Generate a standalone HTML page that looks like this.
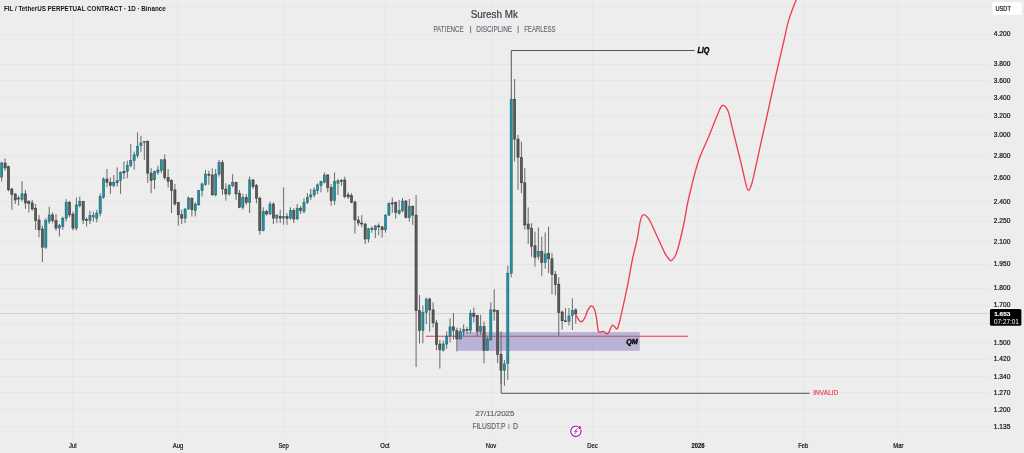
<!DOCTYPE html>
<html><head><meta charset="utf-8"><style>
html,body{margin:0;padding:0;background:#ededed;width:1024px;height:453px;overflow:hidden}
svg{display:block;will-change:transform}
text{font-family:"Liberation Sans",sans-serif}
</style></head><body>
<svg width="1024" height="453" viewBox="0 0 1024 453">
<rect x="0" y="0" width="1024" height="453" fill="#ededed"/>

<path d="M0 6.5H990 M0 34.5H990 M0 64.5H990 M0 80.5H990 M0 97.5H990 M0 115.5H990 M0 134.5H990 M0 155.5H990 M0 177.5H990 M0 201.5H990 M0 221.5H990 M0 241.5H990 M0 264.5H990 M0 288.5H990 M0 305.5H990 M0 323.5H990 M0 342.5H990 M0 359.5H990 M0 376.5H990 M0 392.5H990 M0 409.5H990 M0 426.5H990 M72.6 0V437 M178.3 0V437 M283.2 0V437 M385.3 0V437 M491.3 0V437 M592.7 0V437 M698.3 0V437 M803.4 0V437 M898.2 0V437" stroke="#e5e6e6" stroke-width="1" fill="none"/>
<path d="M0 313.5H990" stroke="#d3d3d3" stroke-width="1"/>
<path d="M425.8 336.3H688" stroke="#ec3a4e" stroke-width="1.05"/>
<rect x="457.2" y="332.1" width="182.6" height="18.7" fill="rgb(121,108,186)" fill-opacity="0.45"/>
<path d="M1.66 161.6V181.5 M22.04 181.0V201.5 M45.82 218.2V248.9 M49.22 206.6V224.0 M59.41 224.0V236.4 M62.81 216.5V229.8 M66.20 199.1V221.5 M76.39 197.5V230.6 M79.79 196.6V207.4 M89.98 210.7V224.0 M93.38 211.6V221.5 M96.78 209.9V222.3 M100.17 193.3V216.5 M103.57 177.3V198.9 M113.76 174.9V187.3 M117.16 167.4V186.5 M120.55 171.5V193.9 M127.35 160.8V178.2 M130.75 144.0V167.3 M134.14 151.5V169.8 M137.54 132.4V158.2 M140.94 135.7V152.3 M144.33 141.2V159.8 M154.52 170.7V189.0 M157.92 165.7V174.9 M161.32 159.1V173.2 M185.10 208.2V223.1 M188.49 196.5V209.8 M195.29 202.4V216.5 M198.69 189.9V205.7 M202.08 182.4V196.5 M205.48 170.0V185.7 M215.67 169.1V196.5 M219.07 160.0V176.6 M229.26 184.0V195.7 M232.66 174.1V187.4 M242.85 194.0V209.8 M249.64 176.6V213.0 M263.23 207.3V231.4 M270.02 201.5V214.8 M276.82 214.0V223.1 M283.61 187.4V224.8 M290.41 207.3V219.8 M297.20 204.0V219.8 M303.99 198.2V213.2 M307.39 193.2V204.0 M310.79 189.0V199.9 M314.18 187.4V197.4 M317.58 183.3V194.0 M320.98 180.8V192.4 M324.38 172.5V183.3 M334.57 172.5V204.9 M337.96 179.1V194.9 M368.54 227.8V242.5 M375.33 224.9V238.1 M385.52 214.2V232.7 M388.92 202.5V216.0 M399.11 200.0V214.7 M402.51 198.0V212.2 M409.30 199.0V221.5 M422.89 305.8V343.4 M426.29 297.5V324.0 M443.27 340.6V351.4 M446.67 331.5V348.8 M450.06 318.2V342.3 M460.25 327.8V339.6 M463.65 324.4V336.1 M470.45 309.9V333.7 M480.64 314.9V334.8 M487.43 337.3V350.7 M490.83 302.4V340.6 M504.42 360.0V385.9 M507.81 265.7V380.0 M511.21 99.0V277.3 M538.39 227.5V259.8 M545.18 232.5V268.6 M568.96 308.0V325.6 M572.36 298.3V330.0 M5.06 158.3V170.7 M8.45 165.7V191.4 M11.85 187.8V209.8 M15.25 193.2V204.0 M18.64 195.7V205.6 M25.44 189.8V208.9 M28.84 200.0V212.4 M32.23 200.0V210.7 M35.63 204.0V229.8 M39.03 214.9V237.3 M42.42 225.7V262.1 M52.61 212.4V223.2 M56.01 214.0V230.6 M69.60 200.8V217.4 M73.00 211.6V230.6 M83.19 200.8V224.0 M86.58 217.4V226.5 M106.97 169.0V187.3 M110.36 177.3V193.9 M123.95 161.6V179.0 M147.73 140.7V183.0 M151.13 168.1V193.1 M164.72 154.5V179.8 M168.11 169.1V187.4 M171.51 179.1V213.0 M174.91 184.0V205.7 M178.30 202.4V225.6 M181.70 209.8V224.0 M191.89 197.4V216.5 M208.88 170.8V184.9 M212.27 168.3V195.7 M222.46 160.0V194.9 M225.86 183.3V200.7 M236.05 181.6V199.9 M239.45 190.0V208.2 M246.24 194.0V204.8 M253.04 179.1V189.0 M256.44 184.0V203.2 M259.83 196.5V234.8 M266.63 209.8V215.6 M273.42 202.4V224.0 M280.21 209.8V223.1 M287.01 213.2V224.8 M293.80 208.2V223.1 M300.60 205.7V214.0 M327.77 174.1V192.4 M331.17 184.1V205.7 M341.36 179.1V185.8 M344.76 176.6V198.2 M348.15 192.4V199.0 M351.55 193.2V203.2 M354.95 200.7V233.7 M358.35 216.1V225.9 M361.74 215.1V227.3 M365.14 223.0V244.0 M371.93 226.4V232.7 M378.73 223.4V235.2 M382.12 225.9V237.6 M392.31 197.6V212.7 M395.71 201.5V218.6 M405.90 200.0V218.5 M412.70 205.4V224.9 M416.09 195.1V367.1 M419.49 295.0V343.4 M429.68 297.5V331.7 M433.08 302.4V327.3 M436.48 319.9V350.3 M439.87 339.8V368.6 M453.46 313.2V339.8 M456.86 327.8V351.3 M467.05 326.8V333.7 M473.84 307.4V322.4 M477.24 314.9V336.6 M484.03 321.5V363.4 M494.23 289.2V320.7 M497.62 309.9V363.0 M501.02 331.5V384.0 M514.61 79.0V161.5 M518.00 135.0V189.8 M521.40 141.6V193.3 M524.80 168.2V229.8 M528.19 207.4V244.0 M531.59 223.2V256.8 M534.99 231.6V266.6 M541.78 236.6V275.9 M548.58 226.7V273.0 M551.97 252.9V294.4 M555.37 271.0V295.4 M558.77 277.3V335.7 M562.16 310.5V329.6 M565.56 308.0V321.7 M575.75 308.0V323.7" stroke="#5a5a5a" stroke-width="0.9" fill="none"/>
<g fill="#1795a8" stroke="#2c5a60" stroke-width="0.5"><rect x="0.56" y="163.0" width="2.2" height="14.0"/><rect x="20.94" y="193.8" width="2.2" height="5.8"/><rect x="44.72" y="220.7" width="2.2" height="26.5"/><rect x="48.12" y="214.9" width="2.2" height="6.6"/><rect x="58.31" y="225.7" width="2.2" height="2.4"/><rect x="61.71" y="218.2" width="2.2" height="8.3"/><rect x="65.10" y="202.4" width="2.2" height="15.8"/><rect x="75.29" y="204.9" width="2.2" height="23.2"/><rect x="78.69" y="201.6" width="2.2" height="4.2"/><rect x="88.88" y="215.7" width="2.2" height="5.0"/><rect x="92.28" y="215.7" width="2.2" height="1.2"/><rect x="95.68" y="213.2" width="2.2" height="5.0"/><rect x="99.07" y="196.6" width="2.2" height="16.6"/><rect x="102.47" y="179.0" width="2.2" height="18.2"/><rect x="112.66" y="182.3" width="2.2" height="3.3"/><rect x="116.06" y="180.7" width="2.2" height="2.1"/><rect x="119.45" y="172.4" width="2.2" height="8.3"/><rect x="126.25" y="165.7" width="2.2" height="5.8"/><rect x="129.65" y="160.6" width="2.2" height="5.0"/><rect x="133.04" y="154.8" width="2.2" height="5.8"/><rect x="136.44" y="146.2" width="2.2" height="9.5"/><rect x="139.84" y="142.9" width="2.2" height="2.8"/><rect x="143.23" y="141.2" width="2.2" height="1.2"/><rect x="153.42" y="171.5" width="2.2" height="8.3"/><rect x="156.82" y="169.9" width="2.2" height="2.5"/><rect x="160.22" y="159.8" width="2.2" height="10.8"/><rect x="184.00" y="209.0" width="2.2" height="9.1"/><rect x="187.39" y="197.9" width="2.2" height="11.1"/><rect x="194.19" y="204.0" width="2.2" height="6.7"/><rect x="197.59" y="190.7" width="2.2" height="14.1"/><rect x="200.98" y="184.0" width="2.2" height="6.7"/><rect x="204.38" y="174.1" width="2.2" height="10.5"/><rect x="214.57" y="174.1" width="2.2" height="20.8"/><rect x="217.97" y="162.5" width="2.2" height="11.6"/><rect x="228.16" y="185.7" width="2.2" height="8.3"/><rect x="231.56" y="182.4" width="2.2" height="3.3"/><rect x="241.75" y="197.4" width="2.2" height="9.9"/><rect x="248.54" y="179.9" width="2.2" height="22.5"/><rect x="262.13" y="211.5" width="2.2" height="19.1"/><rect x="268.92" y="204.0" width="2.2" height="10.0"/><rect x="275.72" y="215.6" width="2.2" height="2.5"/><rect x="282.51" y="216.5" width="2.2" height="1.6"/><rect x="289.31" y="210.7" width="2.2" height="7.4"/><rect x="296.10" y="208.2" width="2.2" height="10.8"/><rect x="302.89" y="202.4" width="2.2" height="9.1"/><rect x="306.29" y="197.4" width="2.2" height="5.0"/><rect x="309.69" y="194.9" width="2.2" height="2.0"/><rect x="313.08" y="189.9" width="2.2" height="5.0"/><rect x="316.48" y="184.9" width="2.2" height="5.8"/><rect x="319.88" y="181.6" width="2.2" height="4.1"/><rect x="323.27" y="175.0" width="2.2" height="7.4"/><rect x="333.47" y="181.6" width="2.2" height="19.1"/><rect x="336.86" y="180.8" width="2.2" height="2.5"/><rect x="367.44" y="228.8" width="2.2" height="10.2"/><rect x="374.23" y="225.9" width="2.2" height="3.9"/><rect x="384.42" y="215.1" width="2.2" height="14.7"/><rect x="387.82" y="203.4" width="2.2" height="11.7"/><rect x="398.01" y="210.7" width="2.2" height="2.5"/><rect x="401.41" y="201.0" width="2.2" height="9.8"/><rect x="408.20" y="206.3" width="2.2" height="11.3"/><rect x="421.79" y="312.4" width="2.2" height="18.3"/><rect x="425.19" y="299.1" width="2.2" height="13.3"/><rect x="442.17" y="344.0" width="2.2" height="6.3"/><rect x="445.57" y="336.1" width="2.2" height="7.9"/><rect x="448.96" y="326.8" width="2.2" height="9.3"/><rect x="459.15" y="331.7" width="2.2" height="7.3"/><rect x="462.55" y="329.3" width="2.2" height="2.4"/><rect x="469.35" y="313.2" width="2.2" height="17.5"/><rect x="479.54" y="326.5" width="2.2" height="5.0"/><rect x="486.33" y="339.0" width="2.2" height="11.3"/><rect x="489.73" y="309.9" width="2.2" height="29.9"/><rect x="503.32" y="363.9" width="2.2" height="6.4"/><rect x="506.71" y="273.2" width="2.2" height="90.2"/><rect x="510.11" y="99.3" width="2.2" height="173.9"/><rect x="537.29" y="251.5" width="2.2" height="4.8"/><rect x="544.08" y="253.9" width="2.2" height="8.8"/><rect x="567.86" y="315.9" width="2.2" height="5.8"/><rect x="571.26" y="310.5" width="2.2" height="4.9"/></g>
<g fill="#5a5a5a" stroke="#303030" stroke-width="0.5"><rect x="3.96" y="163.0" width="2.2" height="5.0"/><rect x="7.35" y="166.6" width="2.2" height="23.2"/><rect x="10.75" y="189.0" width="2.2" height="5.6"/><rect x="14.15" y="194.0" width="2.2" height="6.0"/><rect x="17.54" y="198.0" width="2.2" height="1.0"/><rect x="24.34" y="193.8" width="2.2" height="9.2"/><rect x="27.74" y="201.6" width="2.2" height="1.7"/><rect x="31.13" y="202.9" width="2.2" height="6.1"/><rect x="34.53" y="208.2" width="2.2" height="12.5"/><rect x="37.93" y="219.9" width="2.2" height="9.9"/><rect x="41.32" y="229.0" width="2.2" height="18.2"/><rect x="51.51" y="214.9" width="2.2" height="5.8"/><rect x="54.91" y="220.7" width="2.2" height="7.4"/><rect x="68.50" y="202.4" width="2.2" height="12.5"/><rect x="71.90" y="214.0" width="2.2" height="14.1"/><rect x="82.09" y="201.6" width="2.2" height="18.3"/><rect x="85.48" y="219.5" width="2.2" height="1.2"/><rect x="105.87" y="179.0" width="2.2" height="3.3"/><rect x="109.26" y="182.3" width="2.2" height="3.3"/><rect x="122.85" y="171.5" width="2.2" height="1.4"/><rect x="146.63" y="141.2" width="2.2" height="31.9"/><rect x="150.03" y="173.1" width="2.2" height="7.5"/><rect x="163.62" y="159.8" width="2.2" height="17.5"/><rect x="167.01" y="177.3" width="2.2" height="4.2"/><rect x="170.41" y="180.7" width="2.2" height="10.0"/><rect x="173.81" y="189.9" width="2.2" height="14.1"/><rect x="177.20" y="202.4" width="2.2" height="12.4"/><rect x="180.60" y="214.8" width="2.2" height="3.3"/><rect x="190.79" y="198.2" width="2.2" height="11.6"/><rect x="207.78" y="174.1" width="2.2" height="1.2"/><rect x="211.17" y="175.0" width="2.2" height="19.9"/><rect x="221.36" y="162.5" width="2.2" height="26.5"/><rect x="224.76" y="189.0" width="2.2" height="5.0"/><rect x="234.95" y="182.4" width="2.2" height="11.6"/><rect x="238.35" y="193.2" width="2.2" height="14.1"/><rect x="245.14" y="197.4" width="2.2" height="5.0"/><rect x="251.94" y="179.9" width="2.2" height="6.7"/><rect x="255.34" y="185.7" width="2.2" height="12.5"/><rect x="258.73" y="198.2" width="2.2" height="32.4"/><rect x="265.53" y="211.5" width="2.2" height="2.5"/><rect x="272.32" y="204.0" width="2.2" height="14.1"/><rect x="279.11" y="216.5" width="2.2" height="1.6"/><rect x="285.91" y="216.5" width="2.2" height="2.0"/><rect x="292.70" y="210.7" width="2.2" height="8.3"/><rect x="299.50" y="208.2" width="2.2" height="2.5"/><rect x="326.67" y="175.0" width="2.2" height="12.4"/><rect x="330.07" y="187.4" width="2.2" height="13.3"/><rect x="340.26" y="180.3" width="2.2" height="1.0"/><rect x="343.66" y="180.0" width="2.2" height="16.6"/><rect x="347.05" y="194.9" width="2.2" height="2.0"/><rect x="350.45" y="195.7" width="2.2" height="6.7"/><rect x="353.85" y="202.0" width="2.2" height="18.0"/><rect x="357.25" y="220.0" width="2.2" height="3.0"/><rect x="360.64" y="223.0" width="2.2" height="1.0"/><rect x="364.04" y="224.0" width="2.2" height="15.0"/><rect x="370.83" y="228.3" width="2.2" height="1.0"/><rect x="377.63" y="225.9" width="2.2" height="1.0"/><rect x="381.02" y="226.9" width="2.2" height="2.9"/><rect x="391.21" y="202.9" width="2.2" height="1.0"/><rect x="394.61" y="202.4" width="2.2" height="9.8"/><rect x="404.80" y="201.0" width="2.2" height="16.6"/><rect x="411.60" y="206.3" width="2.2" height="8.8"/><rect x="414.99" y="215.1" width="2.2" height="95.6"/><rect x="418.39" y="310.7" width="2.2" height="20.0"/><rect x="428.58" y="299.1" width="2.2" height="10.8"/><rect x="431.98" y="309.9" width="2.2" height="13.0"/><rect x="435.38" y="322.9" width="2.2" height="21.5"/><rect x="438.77" y="344.0" width="2.2" height="5.8"/><rect x="452.36" y="326.8" width="2.2" height="3.5"/><rect x="455.76" y="330.7" width="2.2" height="8.3"/><rect x="465.95" y="329.3" width="2.2" height="1.4"/><rect x="472.74" y="313.2" width="2.2" height="3.4"/><rect x="476.14" y="315.7" width="2.2" height="15.8"/><rect x="482.93" y="326.5" width="2.2" height="23.8"/><rect x="493.12" y="309.9" width="2.2" height="1.7"/><rect x="496.52" y="310.7" width="2.2" height="43.9"/><rect x="499.92" y="354.2" width="2.2" height="16.1"/><rect x="513.51" y="99.3" width="2.2" height="39.8"/><rect x="516.90" y="139.1" width="2.2" height="18.3"/><rect x="520.30" y="157.4" width="2.2" height="25.4"/><rect x="523.70" y="182.8" width="2.2" height="42.1"/><rect x="527.09" y="224.0" width="2.2" height="5.0"/><rect x="530.49" y="228.2" width="2.2" height="18.2"/><rect x="533.89" y="245.8" width="2.2" height="11.5"/><rect x="540.68" y="251.5" width="2.2" height="11.2"/><rect x="547.48" y="253.4" width="2.2" height="5.4"/><rect x="550.87" y="258.8" width="2.2" height="15.6"/><rect x="554.27" y="274.4" width="2.2" height="10.3"/><rect x="557.67" y="284.2" width="2.2" height="28.3"/><rect x="561.06" y="312.0" width="2.2" height="8.8"/><rect x="564.46" y="320.8" width="2.2" height="1.0"/><rect x="574.65" y="310.0" width="2.2" height="3.9"/></g>
<path d="M511.3 99V50.5H694.7" stroke="#555" stroke-width="1" fill="none"/>
<path d="M501.2 368V393.3H809.8" stroke="#555" stroke-width="1" fill="none"/>
<path d="M576.0 315.0 C576.50 315.88,578.02 319.20,579.00 320.30 C579.98 321.40,580.92 322.02,581.90 321.60 C582.88 321.18,583.90 319.75,584.90 317.80 C585.90 315.85,586.82 311.88,587.90 309.90 C588.98 307.92,590.33 306.07,591.40 305.90 C592.47 305.73,593.48 307.08,594.30 308.90 C595.12 310.72,595.63 313.17,596.30 316.80 C596.97 320.43,597.55 328.18,598.30 330.70 C599.05 333.22,599.88 331.77,600.80 331.90 C601.72 332.03,602.80 331.17,603.80 331.50 C604.80 331.83,605.90 333.87,606.80 333.90 C607.70 333.93,608.30 333.13,609.20 331.70 C610.10 330.27,611.28 326.12,612.20 325.30 C613.12 324.48,613.87 326.22,614.70 326.80 C615.53 327.38,616.40 329.60,617.20 328.80 C618.00 328.00,618.58 325.47,619.50 322.00 C620.42 318.53,621.28 314.45,622.70 308.00 C624.12 301.55,626.40 291.30,628.00 283.30 C629.60 275.30,630.77 267.38,632.30 260.00 C633.83 252.62,635.98 244.93,637.20 239.00 C638.42 233.07,638.90 228.03,639.60 224.40 C640.30 220.77,640.70 218.82,641.40 217.20 C642.10 215.58,642.78 214.70,643.80 214.70 C644.82 214.70,646.38 215.98,647.50 217.20 C648.62 218.42,648.78 218.57,650.50 222.00 C652.22 225.43,655.47 232.73,657.80 237.80 C660.13 242.87,662.72 248.95,664.50 252.40 C666.28 255.85,667.33 257.15,668.50 258.50 C669.67 259.85,670.15 261.45,671.50 260.50 C672.85 259.55,674.58 258.72,676.60 252.80 C678.62 246.88,681.65 233.80,683.60 225.00 C685.55 216.20,685.87 210.53,688.30 200.00 C690.73 189.47,694.70 172.58,698.20 161.80 C701.70 151.02,705.98 143.40,709.30 135.30 C712.62 127.20,715.90 118.17,718.10 113.20 C720.30 108.23,720.85 105.87,722.50 105.50 C724.15 105.13,726.33 107.12,728.00 111.00 C729.67 114.88,730.33 120.17,732.50 128.80 C734.67 137.43,738.78 153.65,741.00 162.80 C743.22 171.95,744.57 179.10,745.80 183.70 C747.03 188.30,747.40 190.40,748.40 190.40 C749.40 190.40,750.62 187.45,751.80 183.70 C752.98 179.95,753.87 175.18,755.50 167.90 C757.13 160.62,759.65 148.82,761.60 140.00 C763.55 131.18,765.00 125.00,767.20 115.00 C769.40 105.00,771.98 92.50,774.80 80.00 C777.62 67.50,781.75 50.10,784.10 40.00 C786.45 29.90,786.70 26.57,788.90 19.40 C791.10 12.23,795.90 0.73,797.30 -3.00" stroke="#ee3b4f" stroke-width="1.3" fill="none" stroke-linejoin="round"/>
<text transform="translate(3.981 10.900) scale(0.10466 0.10698)" font-size="60" font-weight="bold" font-style="normal" fill="#131722">FIL / TetherUS PERPETUAL CONTRACT · 1D · Binance</text>
<text stroke="#3b3e47" stroke-width="1.2" transform="translate(470.706 17.900) scale(0.16466 0.17674)" font-size="60" font-weight="normal" font-style="normal" fill="#3b3e47">Suresh Mk</text>
<text stroke="#6b6e78" stroke-width="1.2" transform="translate(433.377 31.800) scale(0.10458 0.13902)" font-size="60" font-weight="normal" font-style="normal" fill="#6b6e78">PATIENCE</text>
<text transform="translate(469.200 31.116) scale(0.18000 0.12364)" font-size="60" font-weight="normal" font-style="normal" fill="#6b6e78">|</text>
<text stroke="#6b6e78" stroke-width="1.2" transform="translate(476.262 31.800) scale(0.10767 0.13902)" font-size="60" font-weight="normal" font-style="normal" fill="#6b6e78">DISCIPLINE</text>
<text transform="translate(516.800 31.116) scale(0.18000 0.12364)" font-size="60" font-weight="normal" font-style="normal" fill="#6b6e78">|</text>
<text stroke="#6b6e78" stroke-width="1.2" transform="translate(524.198 31.800) scale(0.10033 0.13902)" font-size="60" font-weight="normal" font-style="normal" fill="#6b6e78">FEARLESS</text>
<text stroke="#000" stroke-width="2.5" transform="translate(697.481 52.700) scale(0.11939 0.14390)" font-size="60" font-weight="bold" font-style="italic" fill="#000000">LIQ</text>
<text stroke="#000" stroke-width="2.5" transform="translate(626.140 343.600) scale(0.12000 0.12927)" font-size="60" font-weight="bold" font-style="italic" fill="#000000">QM</text>
<text stroke="#f23645" stroke-width="1.2" transform="translate(813.240 395.300) scale(0.11000 0.12683)" font-size="60" font-weight="normal" font-style="normal" fill="#f23645">INVALID</text>
<text stroke="#5f626c" stroke-width="1.2" transform="translate(475.202 416.000) scale(0.13276 0.13488)" font-size="60" font-weight="normal" font-style="normal" fill="#5f626c">27/11/2025</text>
<text stroke="#5f626c" stroke-width="1.2" transform="translate(472.449 428.600) scale(0.11027 0.14146)" font-size="60" font-weight="normal" font-style="normal" fill="#5f626c">FILUSDT.P</text>
<text transform="translate(508.000 428.065) scale(0.12000 0.09455)" font-size="60" font-weight="normal" font-style="normal" fill="#5f626c">|</text>
<text stroke="#5f626c" stroke-width="1.2" transform="translate(513.114 428.600) scale(0.11714 0.14146)" font-size="60" font-weight="normal" font-style="normal" fill="#5f626c">D</text>
<text transform="translate(72.8 447.9) scale(0.09806 0.11707)" font-size="60" fill="#131722" stroke="#131722" stroke-width="2" text-anchor="middle">Jul</text>
<text transform="translate(178.0 447.9) scale(0.09806 0.11707)" font-size="60" fill="#131722" stroke="#131722" stroke-width="2" text-anchor="middle">Aug</text>
<text transform="translate(283.6 447.9) scale(0.09806 0.11707)" font-size="60" fill="#131722" stroke="#131722" stroke-width="2" text-anchor="middle">Sep</text>
<text transform="translate(384.9 447.9) scale(0.09806 0.11707)" font-size="60" fill="#131722" stroke="#131722" stroke-width="2" text-anchor="middle">Oct</text>
<text transform="translate(491 447.9) scale(0.09806 0.11707)" font-size="60" fill="#131722" stroke="#131722" stroke-width="2" text-anchor="middle">Nov</text>
<text transform="translate(592.5 447.9) scale(0.09806 0.11707)" font-size="60" fill="#131722" stroke="#131722" stroke-width="2" text-anchor="middle">Dec</text>
<text transform="translate(698 447.9) scale(0.09806 0.11707)" font-size="60" fill="#131722" stroke="#131722" stroke-width="2" text-anchor="middle" font-weight="bold">2026</text>
<text transform="translate(803.2 447.9) scale(0.09806 0.11707)" font-size="60" fill="#131722" stroke="#131722" stroke-width="2" text-anchor="middle">Feb</text>
<text transform="translate(898.4 447.9) scale(0.09806 0.11707)" font-size="60" fill="#131722" stroke="#131722" stroke-width="2" text-anchor="middle">Mar</text>
<text transform="translate(993.769 36.31) scale(0.11034 0.11707)" font-size="60" fill="#131722" stroke="#131722" stroke-width="2">4.200</text>
<text transform="translate(993.769 66.32) scale(0.11034 0.11707)" font-size="60" fill="#131722" stroke="#131722" stroke-width="2">3.800</text>
<text transform="translate(993.769 82.53) scale(0.11034 0.11707)" font-size="60" fill="#131722" stroke="#131722" stroke-width="2">3.600</text>
<text transform="translate(993.769 99.66) scale(0.11034 0.11707)" font-size="60" fill="#131722" stroke="#131722" stroke-width="2">3.400</text>
<text transform="translate(993.769 117.84) scale(0.11034 0.11707)" font-size="60" fill="#131722" stroke="#131722" stroke-width="2">3.200</text>
<text transform="translate(993.769 137.19) scale(0.11034 0.11707)" font-size="60" fill="#131722" stroke="#131722" stroke-width="2">3.000</text>
<text transform="translate(993.769 157.87) scale(0.11034 0.11707)" font-size="60" fill="#131722" stroke="#131722" stroke-width="2">2.800</text>
<text transform="translate(993.769 180.09) scale(0.11034 0.11707)" font-size="60" fill="#131722" stroke="#131722" stroke-width="2">2.600</text>
<text transform="translate(993.769 204.08) scale(0.11034 0.11707)" font-size="60" fill="#131722" stroke="#131722" stroke-width="2">2.400</text>
<text transform="translate(993.769 223.43) scale(0.11034 0.11707)" font-size="60" fill="#131722" stroke="#131722" stroke-width="2">2.250</text>
<text transform="translate(993.769 244.12) scale(0.11034 0.11707)" font-size="60" fill="#131722" stroke="#131722" stroke-width="2">2.100</text>
<text transform="translate(993.769 266.33) scale(0.11034 0.11707)" font-size="60" fill="#131722" stroke="#131722" stroke-width="2">1.950</text>
<text transform="translate(993.769 290.33) scale(0.11034 0.11707)" font-size="60" fill="#131722" stroke="#131722" stroke-width="2">1.800</text>
<text transform="translate(993.769 307.47) scale(0.11034 0.11707)" font-size="60" fill="#131722" stroke="#131722" stroke-width="2">1.700</text>
<text transform="translate(993.769 344.99) scale(0.11034 0.11707)" font-size="60" fill="#131722" stroke="#131722" stroke-width="2">1.500</text>
<text transform="translate(993.769 361.42) scale(0.11034 0.11707)" font-size="60" fill="#131722" stroke="#131722" stroke-width="2">1.420</text>
<text transform="translate(993.769 378.81) scale(0.11034 0.11707)" font-size="60" fill="#131722" stroke="#131722" stroke-width="2">1.340</text>
<text transform="translate(993.769 394.89) scale(0.11034 0.11707)" font-size="60" fill="#131722" stroke="#131722" stroke-width="2">1.270</text>
<text transform="translate(993.769 411.89) scale(0.11034 0.11707)" font-size="60" fill="#131722" stroke="#131722" stroke-width="2">1.200</text>
<text transform="translate(993.769 428.59) scale(0.11034 0.11707)" font-size="60" fill="#131722" stroke="#131722" stroke-width="2">1.135</text>
<rect x="992" y="2.2" width="29.9" height="12.8" rx="2" fill="#fff"/>
<text stroke="#131722" stroke-width="2" transform="translate(995.529 11.000) scale(0.09427 0.10732)" font-size="60" font-weight="normal" font-style="normal" fill="#131722">USDT</text>
<rect x="989.4" y="308.6" width="32.5" height="17.6" rx="2" fill="#fff"/>
<rect x="989.9" y="309.1" width="31.5" height="16.6" rx="1.5" fill="#000"/>
<text stroke="#fff" stroke-width="1.5" transform="translate(994.169 316.000) scale(0.10764 0.10244)" font-size="60" font-weight="bold" font-style="normal" fill="#ffffff">1.653</text>
<text transform="translate(993.986 323.700) scale(0.10699 0.10732)" font-size="60" font-weight="normal" font-style="normal" fill="#ffffff">07:27:01</text>
<circle cx="575.9" cy="431.2" r="6.8" fill="#fff" fill-opacity="0.85"/>
<path d="M578.2 426.6 A5.2 5.2 0 1 0 580.6 429.0" fill="none" stroke="#a02ec6" stroke-width="1.3"/>
<path d="M577.4 428.5 L574.5 431.5 L577.3 431.0 L574.5 434.0" fill="none" stroke="#a02ec6" stroke-width="0.9" stroke-linejoin="round" stroke-linecap="round"/>
<circle cx="579.6" cy="427.5" r="2.1" fill="#fff"/><circle cx="579.6" cy="427.5" r="1.5" fill="#f2243a"/>
</svg></body></html>
